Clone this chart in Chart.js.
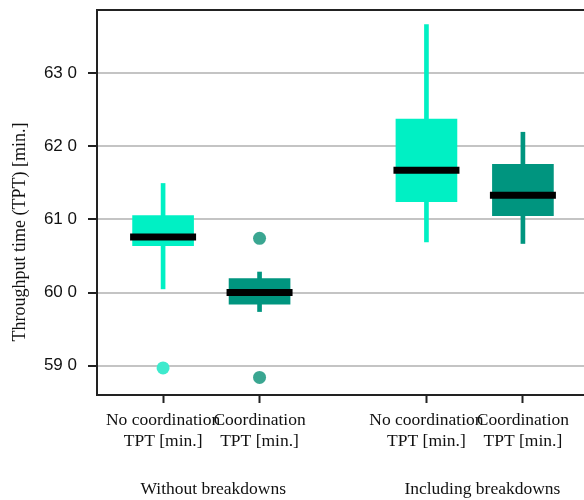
<!DOCTYPE html>
<html>
<head>
<meta charset="utf-8">
<script src="https://cdn.jsdelivr.net/npm/chart.js@4.4.0/dist/chart.umd.min.js"></script>
<style>
  html, body { margin: 0; padding: 0; background: #fff; overflow: hidden; width: 584px; height: 500px; }
  #wrap { width: 595px; height: 500px; position: relative; }
</style>
</head>
<body>
<div id="wrap"><canvas id="c"></canvas></div>
<script>
// ---- data ----
const categories = [["No coordination", "TPT [min.]"], ["Coordination", "TPT [min.]"], ["No coordination", "TPT [min.]"], ["Coordination", "TPT [min.]"]];
const categoryPos = [1, 2, 3.73, 4.73];
const groupLabels = ["Without breakdowns", "Including breakdowns"];
const groupPos = [1.52, 4.31];
const whiskerLow  = [600.5, 597.4, 606.9, 606.7];
const q1          = [606.4, 598.4, 612.4, 610.5];
const median      = [607.6, 600.0, 616.7, 613.3];
const q3          = [610.5, 601.9, 623.7, 617.5];
const whiskerHigh = [614.9, 602.8, 636.6, 621.9];
const outlierCat  = [0, 1, 1];
const outlierVal  = [589.7, 607.4, 588.4];
const yTicks = [590, 600, 610, 620, 630];
const yTickLabels = ["59 0", "60 0", "61 0", "62 0", "63 0"];

const light = "#00F0C4", dark = "#00957F";
const lightOut = "#3EEACD", darkOut = "#3AA691";
const boxColors = [light, dark, light, dark];
const outColors = outlierCat.map(i => boxColors[i] === light ? lightOut : darkOut);

const yTitle = {
  id: 'yTitle',
  afterDraw(chart) {
    const ctx = chart.ctx;
    ctx.save();
    ctx.translate(20, 232);
    ctx.rotate(-Math.PI / 2);
    ctx.font = "18px 'Liberation Serif'";
    ctx.fillStyle = "#111";
    ctx.textAlign = "center";
    ctx.textBaseline = "middle";
    ctx.fillText("Throughput time (TPT) [min.]", 0, 0);
    ctx.restore();
  }
};

const xMin = 0.315, xMax = 5.415;
const noPadH = a => { a.paddingLeft = 0; a.paddingRight = 0; };

new Chart(document.getElementById('c'), {
  type: 'bar',
  data: {
    datasets: [
      {
        label: 'whiskers', order: 4, grouped: false, barThickness: 4, borderWidth: 0,
        data: categoryPos.map((x, i) => ({ x, y: [whiskerLow[i], whiskerHigh[i]] })),
        backgroundColor: boxColors
      },
      {
        label: 'boxes', order: 3, grouped: false, barThickness: 61, borderWidth: 0,
        data: categoryPos.map((x, i) => ({ x, y: [q1[i], q3[i]] })),
        backgroundColor: boxColors
      },
      {
        type: 'scatter', label: 'medians', order: 1,
        data: categoryPos.map((x, i) => ({ x, y: median[i] })),
        pointStyle: 'line', pointRadius: 33, pointHoverRadius: 33, borderWidth: 7, pointBorderWidth: 7,
        borderColor: '#000', backgroundColor: '#000'
      },
      {
        type: 'scatter', label: 'outliers', order: 2,
        data: outlierCat.map((c, i) => ({ x: categoryPos[c], y: outlierVal[i] })),
        pointStyle: 'circle', pointRadius: 6.5, pointHoverRadius: 6.5, borderWidth: 0,
        backgroundColor: outColors, borderColor: outColors
      }
    ]
  },
  options: {
    responsive: true,
    maintainAspectRatio: false,
    animation: false,
    events: [],
    layout: { autoPadding: false, padding: { left: 42, top: 10, right: 6, bottom: 0 } },
    plugins: { legend: { display: false }, tooltip: { enabled: false }, title: { display: false } },
    scales: {
      x: {
        type: 'linear', position: 'bottom', min: xMin, max: xMax, offset: false,
        afterBuildTicks: axis => { axis.ticks = categoryPos.map(v => ({ value: v })); },
        afterFit: a => { noPadH(a); a.height = 60; },
        ticks: {
          autoSkip: false, maxRotation: 0, padding: 6.5, color: '#111',
          font: { family: 'Liberation Serif', size: 17.5, lineHeight: 1.2 },
          callback: (v, i) => categories[i]
        },
        grid: { display: true, offset: false, drawOnChartArea: false, tickLength: 8, tickColor: '#222', tickWidth: 2 },
        border: { display: true, color: '#222', width: 2 }
      },
      xg: {
        type: 'linear', position: 'bottom', min: xMin, max: xMax, offset: false,
        afterBuildTicks: axis => { axis.ticks = groupPos.map(v => ({ value: v })); },
        afterFit: a => { noPadH(a); a.height = 45; },
        ticks: {
          autoSkip: false, maxRotation: 0, padding: 23.5, color: '#111',
          font: { family: 'Liberation Serif', size: 17.5, lineHeight: 1.2 },
          callback: (v, i) => groupLabels[i]
        },
        grid: { display: false, drawTicks: false, offset: false },
        border: { display: false }
      },
      xTop: {
        type: 'linear', position: 'top', min: xMin, max: xMax,
        afterFit: a => { noPadH(a); a.height = 0; },
        ticks: { display: false },
        grid: { display: false, drawTicks: false, offset: false },
        border: { display: true, color: '#222', width: 2 }
      },
      y: {
        type: 'linear', min: 586, max: 638.6,
        afterBuildTicks: axis => { axis.ticks = yTicks.map(v => ({ value: v })); },
        afterFit: a => { a.paddingTop = 0; a.paddingBottom = 0; a.width = 55; },
        ticks: {
          padding: 11, color: '#111',
          font: { family: 'Liberation Sans', size: 17 },
          callback: (v, i) => yTickLabels[i]
        },
        grid: { color: '#c4c4c4', lineWidth: 2, tickLength: 9, tickColor: '#222', tickWidth: 2 },
        border: { display: true, color: '#222', width: 2 }
      }
    }
  },
  plugins: [yTitle]
});
</script>
</body>
</html>
